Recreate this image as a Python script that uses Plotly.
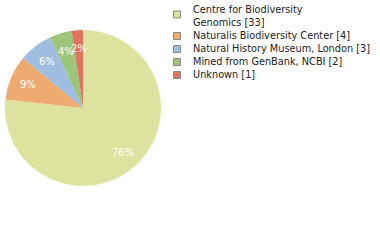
import math
import plotly.graph_objects as go

names = ["Centre for Biodiversity<br>Genomics", "Naturalis Biodiversity Center",
         "Natural History Museum, London", "Mined from GenBank, NCBI", "Unknown"]
values = [33, 4, 3, 2, 1]
pct_text = ["76%", "9%", "6%", "4%", "2%"]
colors = ["#dde39e", "#efaa70", "#9fbde0", "#9cc57a", "#df7460"]

labels = [f"{n} [{v}]" for n, v in zip(names, values)]

W, H = 380, 240
cx, cy, r = 83, 108, 78
dom = dict(x=[(cx - r) / W, (cx + r) / W], y=[1 - (cy + r) / H, 1 - (cy - r) / H])

fig = go.Figure()
fig.add_trace(go.Pie(
    labels=labels, values=values, textinfo="none",
    sort=False, direction="clockwise", rotation=0,
    marker=dict(colors=colors, line=dict(color="white", width=0)),
    domain=dom, hoverinfo="none", showlegend=False,
))

# percentage labels at 0.76 of the radius along each slice's mid-angle
total = sum(values)
cum = 0
for v, t in zip(values, pct_text):
    theta = 2 * math.pi * (cum + v / 2) / total
    cum += v
    fig.add_annotation(x=cx + 0.76 * r * math.sin(theta), y=cy - 0.76 * r * math.cos(theta),
                       xref="x", yref="y", text=t, showarrow=False,
                       xanchor="center", yanchor="middle",
                       font=dict(family="DejaVu Sans", size=10, color="white"))

# legend drawn on a hidden pixel-scaled axis
line_h = 13.0
y0 = 9.5
mx, tx = 177, 190.5
marker_y, line_idx = [], 0
for lab in labels:
    n = lab.count("<br>") + 1
    center = y0 + line_h * (line_idx + (n - 1) / 2)
    marker_y.append(center - (1.5 if n > 1 else -0.5))
    fig.add_annotation(x=tx, y=center, xref="x", yref="y", text=lab,
                       showarrow=False, xanchor="left", yanchor="middle", align="left",
                       font=dict(family="DejaVu Sans", size=9.75, color="#222222"))
    line_idx += n

fig.add_trace(go.Scatter(
    x=[mx] * len(labels), y=marker_y, mode="markers",
    marker=dict(symbol="square", size=7, color=colors, line=dict(color="#888888", width=1)),
    hoverinfo="none", showlegend=False,
))
fig.update_xaxes(range=[0, W], visible=False, domain=[0, 1], fixedrange=True)
fig.update_yaxes(range=[H, 0], visible=False, domain=[0, 1], fixedrange=True)
fig.update_layout(
    width=W, height=H, margin=dict(l=0, r=0, t=0, b=0, autoexpand=False),
    paper_bgcolor="white", plot_bgcolor="rgba(0,0,0,0)",
    showlegend=False,
)
fig.write_html("out.html", config={"displayModeBar": False},
               post_script="document.body.style.margin='0';")
